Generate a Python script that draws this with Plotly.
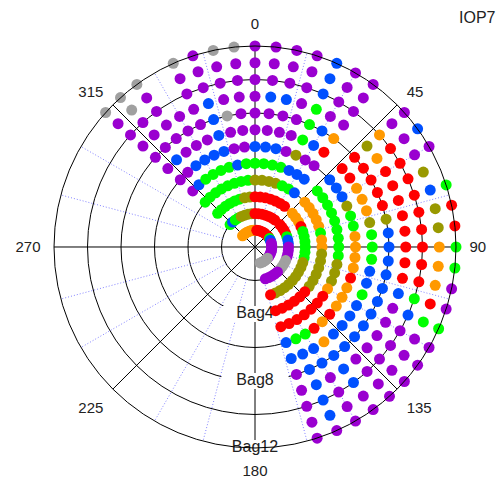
import plotly.graph_objects as go

# Sampler azimuths (degrees, clockwise from north): western arc then eastern arc
west_azimuths = [312, 318, 324, 330, 336, 342, 348, 354, 0, 6, 12, 18, 24, 30, 36]
east_azimuths = [48, 54, 60, 66, 72, 78, 84, 90, 96, 102, 108, 114, 120, 126, 132, 138, 144, 150, 156, 162]

# Concentration class per sampler for each bag (g=gray, p=purple, b=blue, G=green,
# o=olive, O=orange, r=red, . = no sample); west arc | east arc
bag01 = "O O O O O O O O O r r r r r r | r r G b b p p p p p p p p p g g g g g g"
bag02 = "G b G G o o o o r r r r r r r | r r r r G b b p p p p g g g g p p p p p"
bag03 = "G G G G G G o o r r r r r r r | O O O r G G G G G G o o o o o o o o o r"
bag04 = "G G G G G G G G o o o o G G b | O O O O O G O O o o o o o o r r r r r r"
bag05 = "p b G G G G b G G G G G b b b | G G G G G G G G G o o o O r r r r r r r"
bag06 = "p p b b b b p p b b b p o p p | b b b o G G O O O O r O O O r O r G G b"
bag07 = "p b p p p b p p p p p p G b r | r r O O O o G G G b b G b b b b O b b b"
bag08 = "p p p p p b g p p p p p G b O | r r r r r o b b b b b b b b b b b b b p"
bag09 = "p p p p p b p p p b b p G p p | o O r r r r r r r r b p p p p p b p b p"
bag10 = "p p p . p p p p p p p p b p p | O r r r r r r r r r G b p p p p b p b p"
bag11 = "p g p . p p p p p p p p b p p | p p p o b o o O O O r G p p p p p p b p"
bag12 = "g g g . g p g g p p p p b p p | p b p . G r r G G p p G p p p p p p p p"
bag_rows = [bag01, bag02, bag03, bag04, bag05, bag06,
            bag07, bag08, bag09, bag10, bag11, bag12]

class_colors = {
    "g": "#A0A0A0",
    "p": "#9A00D0",
    "b": "#0050FF",
    "G": "#00FF00",
    "o": "#999900",
    "O": "#FF9900",
    "r": "#FF0000",
}

angle_ticks = [0, 45, 90, 135, 180, 225, 270, 315]
ring_values = [2, 4, 6, 8, 10, 12]
bag_labels = ["Bag4", "Bag8", "Bag12"]
bag_label_radii = [4, 8, 12]
dotted_spokes = [a for a in range(0, 360, 15) if a % 45 != 0]

azimuths = west_azimuths + east_azimuths
pt_r, pt_theta, pt_color = [], [], []
for bag, row in enumerate(bag_rows, start=1):
    codes = row.replace("|", " ").split()
    for az, code in zip(azimuths, codes):
        if code == ".":
            continue
        pt_r.append(bag)
        pt_theta.append(az)
        pt_color.append(class_colors[code])

label_font = dict(family="Liberation Sans, Arial", size=16, color="#222222")
tick_font = dict(family="Liberation Sans, Arial", size=15, color="#222222")

fig = go.Figure()

# light dotted spokes every 15 degrees between the 2nd and last ring
spoke_r, spoke_t = [], []
for a in dotted_spokes:
    spoke_r += [2, 12, None]
    spoke_t += [a, a, None]
fig.add_trace(go.Scatterpolar(
    r=spoke_r, theta=spoke_t, mode="lines", connectgaps=False,
    line=dict(color="rgb(130,130,255)", width=1, dash="1px,2px"),
    hoverinfo="skip", showlegend=False))

# bag labels on the 180 degree spoke, with a white backing strip
fig.add_trace(go.Scatterpolar(
    r=bag_label_radii, theta=[180] * len(bag_labels), mode="markers+text",
    text=bag_labels, textposition="middle center", textfont=label_font,
    marker=dict(symbol="line-ew", size=48,
                line=dict(color="white", width=16)),
    hoverinfo="skip", showlegend=False))

fig.add_trace(go.Scatterpolar(
    r=pt_r, theta=pt_theta, mode="markers",
    marker=dict(size=11, color=pt_color, line=dict(width=0)),
    showlegend=False))

fig.update_layout(
    width=500, height=481,
    margin=dict(l=0, r=0, t=0, b=0),
    paper_bgcolor="white",
    showlegend=False,
    polar=dict(
        domain=dict(x=[0.108, 0.912], y=[0.0686, 0.9044]),
        bgcolor="white",
        angularaxis=dict(
            rotation=90, direction="clockwise",
            tickmode="array", tickvals=angle_ticks,
            ticktext=[str(a) for a in angle_ticks],
            ticks="outside", ticklen=10, tickcolor="rgba(0,0,0,0)",
            tickfont=tick_font,
            showline=True, linecolor="black", linewidth=1,
            showgrid=True, gridcolor="black", gridwidth=1,
        ),
        radialaxis=dict(
            range=[0, 12], tickmode="array", tickvals=ring_values,
            showticklabels=False, ticks="",
            showline=False, showgrid=True, gridcolor="black", gridwidth=1,
        ),
    ),
    annotations=[dict(
        text="IOP7", xref="paper", yref="paper", x=0.995, y=0.985,
        xanchor="right", yanchor="top", showarrow=False, font=label_font)],
)

fig.write_html("out.html")
